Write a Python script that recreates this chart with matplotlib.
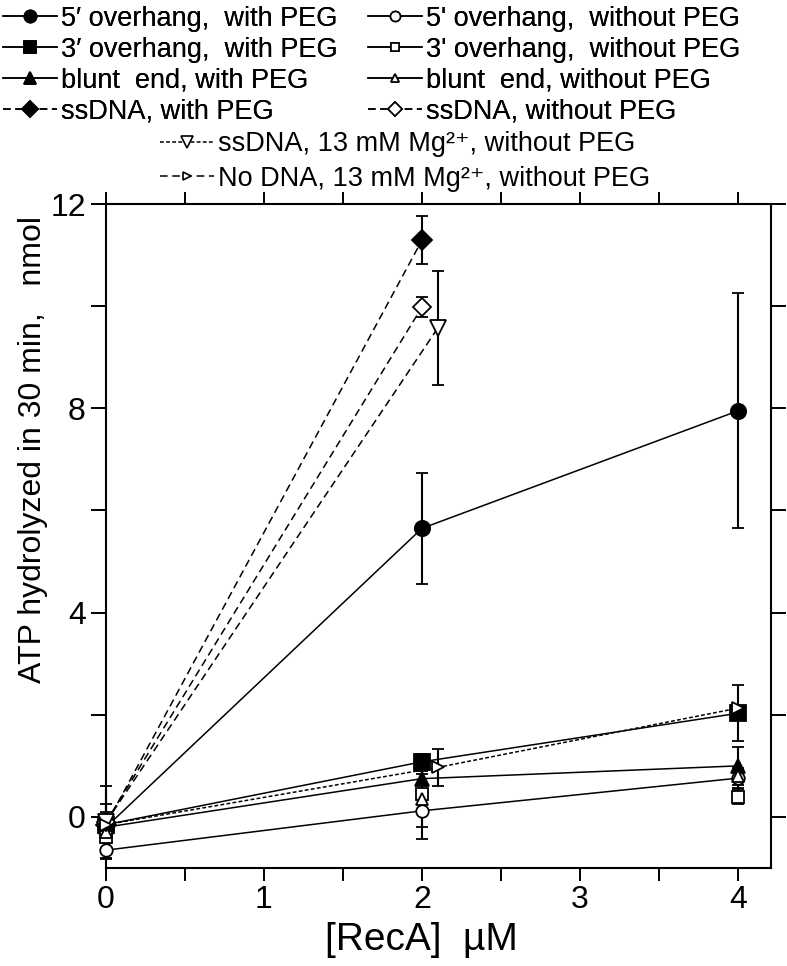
import matplotlib
matplotlib.use("Agg")
import matplotlib.pyplot as plt
from matplotlib.lines import Line2D
from matplotlib.ticker import MultipleLocator, FuncFormatter

plt.rcParams['font.family'] = ['Liberation Sans', 'DejaVu Sans']

OUTPUT_FILE = "out.png"

# [RecA] (uM)
x_full = [0, 2, 4]
x_two = [0, 2]
x_shift2 = [0, 2.1]
x_shift3 = [0, 2.1, 4]

# ATP hydrolyzed in 30 min (nmol) and error bars
y_5p_peg = [-0.2, 5.65, 7.95]
e_5p_peg = [0.45, 1.08, 2.3]
y_3p_peg = [-0.15, 1.08, 2.03]
e_3p_peg = [0.1, 0.15, 0.55]
y_bl_peg = [-0.2, 0.75, 1.0]
e_bl_peg = [0.1, 0.1, 0.37]
y_ss_peg = [-0.15, 11.29]
e_ss_peg = [0.1, 0.47]

y_5p_no = [-0.65, 0.12, 0.76]
e_5p_no = [0.17, 0.55, 0.2]
y_3p_no = [-0.4, 0.45, 0.4]
e_3p_no = [0.1, 0.2, 0.15]
y_bl_no = [-0.3, 0.35, 0.8]
e_bl_no = [0.1, 0.55, 0.1]
y_ss_no = [-0.1, 9.98]
e_ss_no = [0.2, 0.2]

y_ss_mg = [-0.1, 9.57]
e_ss_mg = [0.7, 1.12]
y_nodna_mg = [-0.15, 0.97, 2.13]
e_nodna_mg = [0.1, 0.37, 0.0]

labels = [
    "5\u2032 overhang,  with PEG",
    "3\u2032 overhang,  with PEG",
    "blunt  end, with PEG",
    "ssDNA, with PEG",
    "5' overhang,  without PEG",
    "3' overhang,  without PEG",
    "blunt  end, without PEG",
    "ssDNA, without PEG",
    "ssDNA, 13 mM Mg\u00b2\u207a, without PEG",
    "No DNA, 13 mM Mg\u00b2\u207a, without PEG",
]

series = [
    (x_full, y_5p_peg, e_5p_peg),
    (x_full, y_3p_peg, e_3p_peg),
    (x_full, y_bl_peg, e_bl_peg),
    (x_two, y_ss_peg, e_ss_peg),
    (x_full, y_5p_no, e_5p_no),
    (x_full, y_3p_no, e_3p_no),
    (x_full, y_bl_no, e_bl_no),
    (x_two, y_ss_no, e_ss_no),
    (x_shift2, y_ss_mg, e_ss_mg),
    (x_shift3, y_nodna_mg, e_nodna_mg),
]

long_dash = (0, (5, 3))
short_dash = (0, (2.5, 1.5))
styles = [
    dict(marker='o', mfc='black', ms=11, ls='-', leg_ls='-'),
    dict(marker='s', mfc='black', ms=11, ls='-', leg_ls='-'),
    dict(marker='^', mfc='black', ms=10, ls='-', leg_ls='-'),
    dict(marker='D', mfc='black', ms=10, ls=long_dash, leg_ls=long_dash),
    dict(marker='o', mfc='white', ms=9, ls='-', leg_ls='-'),
    dict(marker='s', mfc='white', ms=8, ls='-', leg_ls='-'),
    dict(marker='^', mfc='white', ms=8, ls='-', leg_ls='-'),
    dict(marker='D', mfc='white', ms=9, ls=long_dash, leg_ls=long_dash),
    dict(marker='v', mfc='white', ms=11, ls=long_dash, leg_ls=short_dash),
    dict(marker='>', mfc='white', ms=8, ls=short_dash, leg_ls=long_dash),
]
# these two have no visible connecting line in the figure
no_line = {5, 6}

fig = plt.figure(figsize=(7.87, 9.66), dpi=100)
ax = fig.add_axes([0.1347, 0.1014, 0.845, 0.6874])

for i, ((xs, ys, es), st) in enumerate(zip(series, styles)):
    ls = 'none' if i in no_line else st['ls']
    ax.errorbar(xs, ys, yerr=es, color='black', ecolor='black',
                marker=st['marker'], mfc=st['mfc'], mec='black', ms=st['ms'],
                mew=1.3, ls=ls, lw=1.1, elinewidth=1.5, capsize=4,
                capthick=1.5, clip_on=False, zorder=3)

ax.set_xlim(0, 4.21)
ax.set_ylim(-1, 12)

ax.xaxis.set_major_locator(MultipleLocator(0.5))
ax.xaxis.set_major_formatter(FuncFormatter(
    lambda v, p: f"{int(round(v))}" if abs(v - round(v)) < 1e-6 else ""))
ax.yaxis.set_major_locator(MultipleLocator(2))
ax.yaxis.set_major_formatter(FuncFormatter(
    lambda v, p: f"{int(round(v))}" if int(round(v)) % 4 == 0 else ""))

ax.tick_params(axis='both', which='major', direction='out', width=1.4,
               labelsize=23, color='black')
ax.tick_params(axis='x', top=True, length=9, pad=3)
ax.tick_params(axis='y', right=True, length=10.5, pad=4)
for side in ['top', 'bottom', 'left', 'right']:
    ax.spines[side].set_linewidth(1.5)

ax.set_xlabel("[RecA]  \u00b5M", fontsize=28)
ax.xaxis.set_label_coords(2 / 4.21, -0.082)
ax.set_ylabel("ATP hydrolyzed in 30 min,   nmol", fontsize=23)
ax.yaxis.set_label_coords(-0.087, 0.63)

# legend proxies
handles = []
for st in styles:
    handles.append(Line2D([], [], color='black', lw=1.1, ls=st['leg_ls'],
                          marker=st['marker'], mfc=st['mfc'], mec='black',
                          ms=st['ms'] * 0.8, mew=1.2))

leg1 = fig.legend(handles[:8], labels[:8], ncol=2, loc='upper left',
                  bbox_to_anchor=(0.004, 0.994), frameon=False, fontsize=19.5,
                  handlelength=2.0, handletextpad=0.15, columnspacing=1.1,
                  labelspacing=0.18, borderpad=0, borderaxespad=0)
fig.add_artist(leg1)
fig.legend(handles[8:], labels[8:], ncol=1, loc='upper left',
           bbox_to_anchor=(0.203, 0.864), frameon=False, fontsize=19.5,
           handlelength=2.0, handletextpad=0.15, labelspacing=0.3,
           borderpad=0, borderaxespad=0)

fig.savefig(OUTPUT_FILE, dpi=100)
